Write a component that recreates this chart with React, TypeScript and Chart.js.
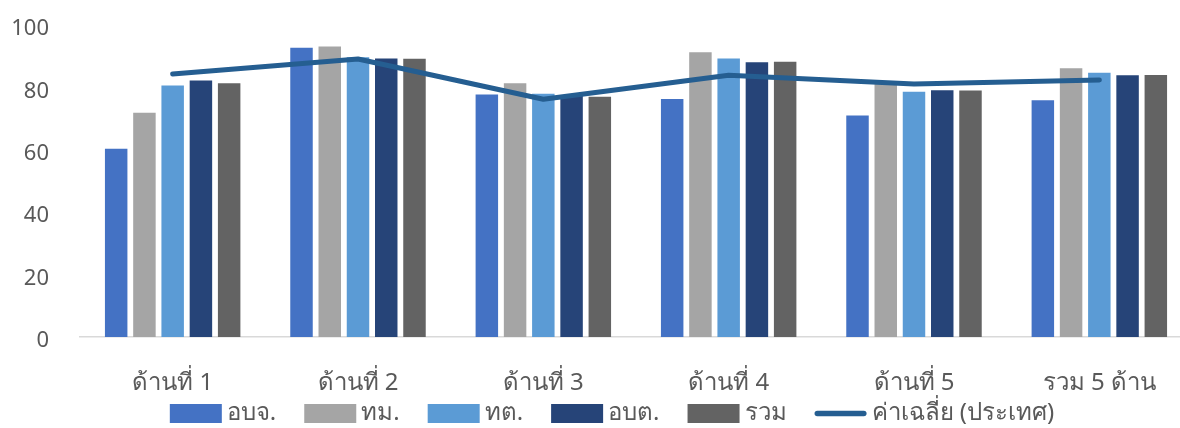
import React, { useEffect, useRef } from "react";
import { Chart, registerables } from "chart.js";

Chart.register(...registerables);

const categories = ["ด้านที่ 1", "ด้านที่ 2", "ด้านที่ 3", "ด้านที่ 4", "ด้านที่ 5", "รวม 5 ด้าน"];
const seriesNames = ["อบจ.", "ทม.", "ทต.", "อบต.", "รวม"];
const seriesColors = ["#4472C4", "#A5A5A5", "#5B9BD5", "#264478", "#636363"];
const obj = [60.3, 92.7, 77.7, 76.3, 71.0, 75.9];
const tm = [71.9, 93.1, 81.3, 91.3, 81.5, 86.1];
const tt = [80.6, 89.7, 78.0, 89.3, 78.6, 84.7];
const obt = [82.2, 89.3, 77.5, 88.1, 79.1, 83.9];
const total = [81.3, 89.2, 77.0, 88.2, 79.0, 84.0];
const avgName = "ค่าเฉลี่ย (ประเทศ)";
const avgColor = "#255E91";
const avg = [84.3, 89.1, 76.2, 83.9, 81.1, 82.4];
const yTicks = [0, 20, 40, 60, 80, 100];

const FONT = "'Noto Sans', 'DejaVu Sans', sans-serif";
const TEXT = "#595959";

// Legend drawn on the canvas from the chart's own datasets
const bottomLegend = {
  id: "bottomLegend",
  afterDraw(chart: any) {
    const ctx = chart.ctx as CanvasRenderingContext2D;
    const sw = 52;
    const boxH = 19;
    const textGap = 5;
    const itemGap = 28;
    const cy = 413.5;
    const centerX = 612;
    ctx.save();
    ctx.font = `24px ${FONT}`;
    const items = chart.data.datasets.map((ds: any) => ({
      label: ds.label as string,
      color: (ds.type === "line" ? ds.borderColor : ds.backgroundColor) as string,
      line: ds.type === "line",
      w: ctx.measureText(ds.label).width,
    }));
    const total =
      items.reduce((s: number, it: any) => s + sw + textGap + it.w, 0) + itemGap * (items.length - 1);
    let x = centerX - total / 2;
    for (const it of items) {
      if (it.line) {
        ctx.strokeStyle = it.color;
        ctx.lineWidth = 5.5;
        ctx.lineCap = "round";
        ctx.beginPath();
        ctx.moveTo(x + 2.75, cy);
        ctx.lineTo(x + sw - 2.75, cy);
        ctx.stroke();
      } else {
        ctx.fillStyle = it.color;
        ctx.fillRect(x, cy - boxH / 2, sw, boxH);
      }
      ctx.fillStyle = TEXT;
      ctx.textBaseline = "middle";
      ctx.textAlign = "left";
      ctx.fillText(it.label, x + sw + textGap, cy);
      x += sw + textGap + it.w + itemGap;
    }
    ctx.restore();
  },
};

export default function App() {
  const ref = useRef<HTMLCanvasElement | null>(null);

  useEffect(() => {
    if (!ref.current) return;
    const barSeries = [obj, tm, tt, obt, total];
    const chart = new Chart(ref.current, {
      type: "bar",
      data: {
        labels: categories,
        datasets: [
          ...barSeries.map((d, i) => ({
            type: "bar" as const,
            label: seriesNames[i],
            data: d,
            backgroundColor: seriesColors[i],
            borderWidth: 0,
            barPercentage: 0.796,
            categoryPercentage: 0.762,
            order: 0,
          })),
          {
            type: "line" as const,
            label: avgName,
            data: avg,
            borderColor: avgColor,
            backgroundColor: avgColor,
            borderWidth: 5,
            pointRadius: 0,
            pointHoverRadius: 0,
            borderCapStyle: "round",
            borderJoinStyle: "round",
            tension: 0,
            order: -1,
          },
        ],
      },
      options: {
        responsive: false,
        animation: false,
        devicePixelRatio: 1,
        layout: { padding: { left: 0, right: 8, top: 25, bottom: 33 } },
        scales: {
          x: {
            grid: { display: false, drawTicks: false },
            border: { display: true, color: "#D9D9D9", width: 1.5 },
            ticks: {
              font: { family: FONT, size: 24 },
              color: TEXT,
              padding: 32,
              maxRotation: 0,
              autoSkip: false,
            },
            afterFit: (s: any) => {
              s.height = 58;
            },
          },
          y: {
            min: 0,
            max: 100,
            afterBuildTicks: (s: any) => {
              s.ticks = yTicks.map((v) => ({ value: v }));
            },
            grid: { display: false, drawTicks: false },
            border: { display: false },
            ticks: {
              font: { family: FONT, size: 22 },
              color: TEXT,
              padding: 31,
              labelOffset: 4,
            },
            afterFit: (s: any) => {
              s.width = 80;
              s.paddingTop = 0;
              s.paddingBottom = 0;
            },
          },
        },
        plugins: {
          tooltip: { enabled: false },
          legend: { display: false },
        },
      },
      plugins: [bottomLegend],
    } as any);
    return () => chart.destroy();
  }, []);

  return (
    <div
      style={{
        position: "fixed",
        left: 0,
        top: 0,
        width: 1180,
        height: 428,
        overflow: "hidden",
        background: "#fff",
      }}
    >
      <canvas ref={ref} width={1200} height={428} style={{ display: "block", width: 1200, height: 428 }} />
    </div>
  );
}
